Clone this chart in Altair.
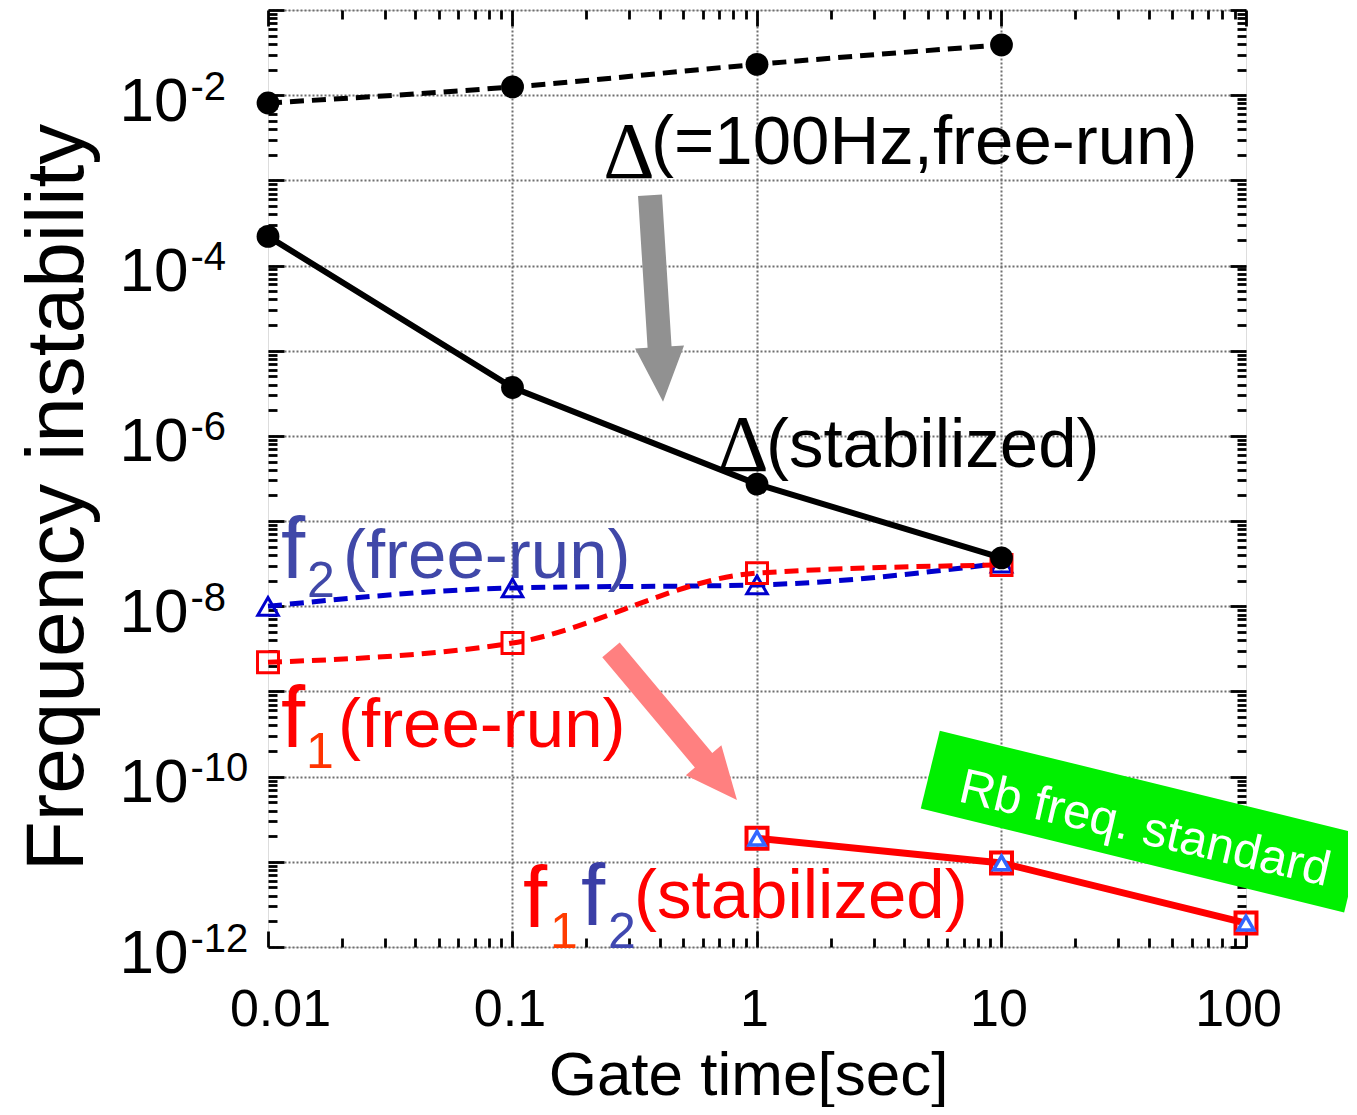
import altair as alt
import pandas as pd

# ---------------- data ----------------
gate_free = [0.01, 0.1, 1, 10]
delta_freerun = [8.1e-3, 1.25e-2, 2.3e-2, 3.9e-2]
delta_stabilized = [2.2e-4, 3.7e-6, 2.72e-7, 3.7e-8]
f2_freerun = [1.0e-8, 1.64e-8, 1.78e-8, 3.2e-8]
f1_freerun = [2.2e-9, 3.7e-9, 2.45e-8, 3.05e-8]
gate_stab = [1, 10, 100]
f1f2_stabilized = [1.89e-11, 9.7e-12, 1.91e-12]

# axis tick values
x_major = [0.01, 0.1, 1, 10, 100]
x_grid = [0.1, 1, 10]
x_minor = [round(m * d, 6) for d in (0.01, 0.1, 1, 10) for m in range(2, 10)]
y_major = [10.0 ** e for e in range(-12, 0)]
y_minor = [m * 10.0 ** e for e in range(-12, -1) for m in range(2, 10)]
y_labelled = [1e-2, 1e-4, 1e-6, 1e-8, 1e-10, 1e-12]

# annotation texts and their anchors (data coordinates)
note_text = ["Δ", "(=100Hz,free-run)", "Δ", "(stabilized)",
             "f", "2", "(free-run)",
             "f", "1", "(free-run)",
             "f", "1", "f", "2", "(stabilized)"]
note_x = [0.2350, 0.3685, 0.6880, 1.088,
          0.01130, 0.01443, 0.02026,
          0.01130, 0.01430, 0.01933,
          0.1104, 0.1423, 0.1906, 0.2459, 0.3140]
note_y = [1.066e-3, 1.556e-3, 3.87e-7, 4.31e-7,
          2.147e-8, 1.285e-8, 2.147e-8,
          2.228e-10, 1.262e-10, 2.228e-10,
          1.717e-12, 9.73e-13, 1.811e-12, 9.73e-13, 2.188e-12]

rb_text = "Rb freq. standard"
rb_text_xy = (37.37, 1.64e-11)
rb_box_xy = (37.55, 2.97e-11)
gray_arrow_xy = (0.3882, 4.10e-5)
pink_arrow_xy = (0.4575, 4.04e-10)

# ---------------- styling ----------------
SANS = "Liberation Sans"
SERIF = "Liberation Serif"
W, H = 978, 937
BLUE_TXT = "#4048a8"

note_style = [
    (SERIF, 80, "black"), (SANS, 69, "black"), (SERIF, 80, "black"), (SANS, 69, "black"),
    (SANS, 87, BLUE_TXT), (SANS, 50, BLUE_TXT), (SANS, 69, BLUE_TXT),
    (SANS, 87, "#ff0000"), (SANS, 50, "#ff3300"), (SANS, 69, "#ff0000"),
    (SANS, 87, "#ff0000"), (SANS, 50, "#ff3c00"), (SANS, 87, "#3a3ea6"), (SANS, 50, "#4048b0"),
    (SANS, 69, "#ff0000"),
]

xs = alt.Scale(type="log", domain=[0.01, 100], nice=False)
ys = alt.Scale(type="log", domain=[1e-12, 0.1], nice=False)


def X(axis=None):
    return alt.X("x:Q", scale=xs, axis=axis)


def Y(axis=None):
    return alt.Y("y:Q", scale=ys, axis=axis)


frame = pd.DataFrame({"x": [0.01, 100], "y": [1e-12, 0.1]})


def axis_layer(xaxis=None, yaxis=None):
    return alt.Chart(frame).mark_point(opacity=0).encode(x=X(xaxis), y=Y(yaxis))


def tick_axis(vals, orient, size):
    off = -H if orient in ("top", "bottom") else -W
    return alt.Axis(values=vals, orient=orient, offset=off, ticks=True, tickSize=size,
                    tickWidth=2.8, tickColor="black", labels=False, domain=False,
                    grid=False, title=None)


grid_common = dict(grid=True, gridColor="#6e6e6e", gridDash=[2, 2], gridWidth=2,
                   ticks=False, labels=False, domain=False, title=None)

x_lab_axis = alt.Axis(
    values=x_major, orient="bottom", labelExpr="format(datum.value, '~g')",
    labelFont=SANS, labelFontSize=52, labelColor="black", labelAlign="center",
    labelBaseline="alphabetic", labelPadding=78,
    labelOffset={"condition": [{"test": "datum.value < 0.05", "value": 12},
                               {"test": "datum.value > 50", "value": -8}],
                 "value": -3},
    ticks=False, domain=False, grid=False, labelOverlap=False, labelFlush=False,
    title="Gate time[sec]", titleFont=SANS, titleFontSize=62, titleFontWeight="normal",
    titleColor="black", titleAlign="center", titleBaseline="alphabetic",
    titleX=480, titleY=147)

y_ten_axis = alt.Axis(
    values=y_labelled, orient="left", labelExpr="'10'", labelFont=SANS,
    labelFontSize=62, labelColor="black", labelAlign="right", labelBaseline="alphabetic",
    labelPadding=80, labelOffset=25, ticks=False, domain=False, grid=False,
    labelOverlap=False, labelFlush=False,
    title="Frequency instability", titleFont=SANS, titleFontSize=82,
    titleFontWeight="normal", titleColor="black", titleAngle=270, titleAlign="center",
    titleBaseline="alphabetic", titleX=-186, titleY=487)

y_exp_axis = alt.Axis(
    values=y_labelled, orient="left",
    labelExpr="'-' + round(-log(datum.value) / LN10)", labelFont=SANS,
    labelFontSize=40, labelColor="black", labelAlign="left", labelBaseline="alphabetic",
    labelPadding=78, labelOffset=4, ticks=False, domain=False, grid=False,
    labelOverlap=False, labelFlush=False, title=None)

axes = [
    axis_layer(x_lab_axis, y_ten_axis),
    axis_layer(alt.Axis(values=x_grid, orient="bottom", **grid_common), y_exp_axis),
    axis_layer(tick_axis(x_major, "top", 16),
               alt.Axis(values=y_major, orient="left", **grid_common)),
    axis_layer(tick_axis(x_minor, "top", 9), tick_axis(y_major, "right", 16)),
    axis_layer(tick_axis(x_major, "bottom", 16), tick_axis(y_minor, "right", 9)),
    axis_layer(tick_axis(x_minor, "bottom", 9), tick_axis(y_major, "left", 16)),
    axis_layer(None, tick_axis(y_minor, "left", 9)),
]

# ---------------- data layers ----------------
df_dfree = pd.DataFrame({"x": gate_free, "y": delta_freerun})
df_dstab = pd.DataFrame({"x": gate_free, "y": delta_stabilized})
df_f2 = pd.DataFrame({"x": gate_free, "y": f2_freerun})
df_f1 = pd.DataFrame({"x": gate_free, "y": f1_freerun})
df_st = pd.DataFrame({"x": gate_stab, "y": f1f2_stabilized})


def line(df, color, width, dash=None, interp="linear"):
    kw = dict(color=color, strokeWidth=width, interpolate=interp)
    if dash:
        kw["strokeDash"] = dash
    return alt.Chart(df).mark_line(**kw).encode(x=X(), y=Y())


def pts(df, **kw):
    kw.setdefault("opacity", 1)
    return alt.Chart(df).mark_point(**kw).encode(x=X(), y=Y())


DASH = [14, 8]
data_layers = [
    line(df_f2, "#0000cc", 5, DASH, "monotone"),
    pts(df_f2, shape="triangle-up", filled=False, color="#0000cc", size=420, strokeWidth=3),
    line(df_f1, "#ff0000", 5, DASH, "monotone"),
    pts(df_f1, shape="square", filled=False, color="#ff0000", size=440, strokeWidth=3),
    line(df_dfree, "black", 5, DASH, "monotone"),
    pts(df_dfree, shape="circle", filled=True, color="black", size=520, strokeWidth=0),
    line(df_dstab, "black", 6),
    pts(df_dstab, shape="circle", filled=True, color="black", size=520, strokeWidth=0),
    line(df_st, "#ff0000", 7),
    pts(df_st, shape="square", filled=False, color="#ff0000", size=440, strokeWidth=4),
    pts(df_st, shape="triangle-up", filled=True, fill="white", stroke="#3366ff",
        size=250, strokeWidth=3.5),
]

# ---------------- annotations ----------------
ARROW = "M-1,-0.116L0.47,-0.116L0.47,-0.237L1,0L0.47,0.237L0.47,0.116L-1,0.116Z"
BOX = "M-1,-0.1835L1,-0.1835L1,0.1835L-1,0.1835Z"

ann_layers = [
    pts(pd.DataFrame({"x": [gray_arrow_xy[0]], "y": [gray_arrow_xy[1]]}),
        shape=ARROW, filled=True, color="#919191", size=207 ** 2, angle=86.4, strokeWidth=0),
    pts(pd.DataFrame({"x": [pink_arrow_xy[0]], "y": [pink_arrow_xy[1]]}),
        shape=ARROW, filled=True, color="#ff8080", size=196 ** 2, angle=50, strokeWidth=0),
]

for t, x, y, (font, size, color) in zip(note_text, note_x, note_y, note_style):
    ann_layers.append(
        alt.Chart(pd.DataFrame({"x": [x], "y": [y], "t": [t]}))
        .mark_text(align="left", baseline="alphabetic", font=font, fontSize=size, color=color)
        .encode(x=X(), y=Y(), text="t:N"))

ann_layers += [
    pts(pd.DataFrame({"x": [rb_box_xy[0]], "y": [rb_box_xy[1]]}),
        shape=BOX, filled=True, color="#00f000", size=436 ** 2, angle=13.8, strokeWidth=0),
    alt.Chart(pd.DataFrame({"x": [rb_text_xy[0]], "y": [rb_text_xy[1]], "t": [rb_text]}))
    .mark_text(align="center", baseline="alphabetic", font=SANS, fontSize=49,
               color="white", angle=13)
    .encode(x=X(), y=Y(), text="t:N"),
]

chart = (
    alt.layer(*axes, *data_layers, *ann_layers)
    .resolve_axis(x="independent", y="independent")
    .properties(width=W, height=H,
                autosize=alt.AutoSizeParams(type="none"),
                padding={"left": 260, "top": 2, "right": 102, "bottom": 160})
    .configure_view(stroke="black", strokeWidth=3)
    .configure(background="white")
)

chart.save("out.html", embed_options={"renderer": "svg", "actions": False})
